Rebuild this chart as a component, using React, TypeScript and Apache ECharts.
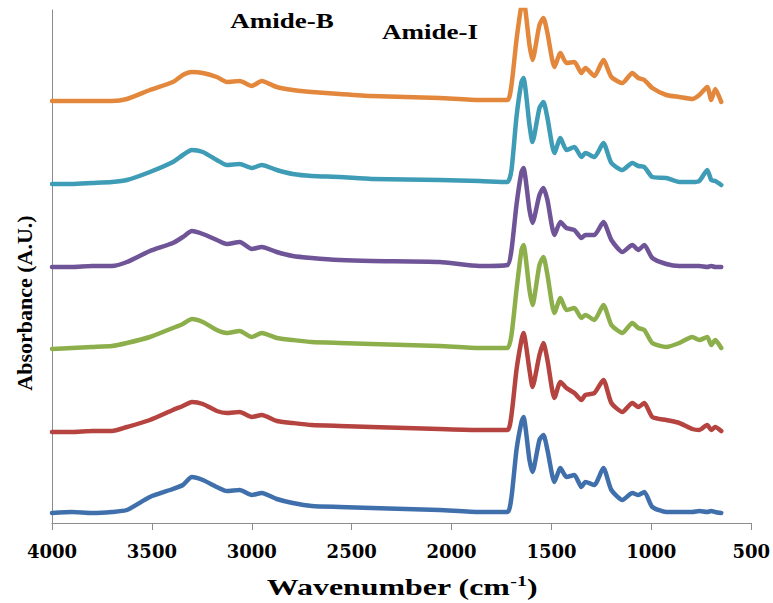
import React, { useEffect, useRef } from "react";
import * as echarts from "echarts";

// Wavenumber grid (cm-1), descending
const wavenumbers = [4000, 3900, 3800, 3700, 3625, 3510, 3395, 3345, 3300, 3245, 3175, 3125, 3060, 3000, 2950, 2875, 2795, 2700, 2560, 2400, 2060, 1860, 1720, 1700, 1675, 1650, 1640, 1610, 1595, 1560, 1540, 1520, 1485, 1455, 1425, 1385, 1350, 1330, 1285, 1240, 1200, 1145, 1095, 1065, 1035, 995, 925, 860, 795, 760, 720, 700, 680, 650];

// Offset absorbance traces (A.U.), bottom to top
const blueTrace = [10, 11, 10, 11, 13, 26, 34, 38, 46, 43, 36, 32, 33, 28, 30, 24, 20, 17, 16, 15, 13, 11, 11, 26, 73, 101, 106, 63, 51, 83, 88, 73, 41, 55, 46, 48, 36, 41, 38, 55, 33, 23, 30, 28, 31, 16, 11, 11, 11, 12, 11, 12, 11, 10];
const redTrace = [91, 91, 92, 92, 96, 103, 113, 117, 121, 119, 112, 110, 111, 106, 108, 102, 100, 98, 97, 96, 94, 93, 93, 108, 153, 183, 190, 153, 136, 168, 180, 163, 125, 141, 135, 130, 123, 128, 130, 143, 120, 111, 120, 116, 120, 106, 103, 100, 94, 93, 98, 93, 96, 92];
const greenTrace = [174, 175, 176, 177, 180, 186, 195, 199, 204, 201, 193, 190, 192, 186, 190, 185, 183, 181, 180, 179, 177, 175, 175, 188, 233, 273, 278, 233, 218, 258, 266, 248, 210, 225, 213, 215, 205, 208, 203, 218, 198, 190, 200, 195, 193, 180, 176, 180, 186, 183, 186, 178, 183, 175];
const purpleTrace = [256, 256, 257, 257, 261, 272, 280, 286, 292, 289, 283, 279, 281, 274, 276, 271, 267, 265, 263, 262, 261, 257, 258, 273, 318, 351, 355, 313, 300, 328, 335, 323, 288, 301, 295, 293, 285, 288, 288, 301, 283, 271, 278, 273, 278, 265, 259, 257, 257, 257, 256, 257, 256, 256];
const tealTrace = [339, 339, 340, 341, 343, 351, 361, 368, 373, 371, 363, 358, 359, 355, 358, 353, 349, 347, 346, 344, 343, 342, 341, 353, 406, 441, 445, 398, 381, 415, 421, 405, 370, 385, 373, 376, 366, 370, 366, 380, 360, 353, 360, 357, 356, 346, 345, 341, 341, 342, 353, 343, 342, 338];
const orangeTrace = [422, 422, 422, 422, 424, 433, 441, 448, 451, 450, 446, 441, 442, 437, 442, 436, 433, 431, 429, 427, 425, 423, 423, 438, 483, 518, 523, 478, 463, 498, 505, 490, 456, 470, 460, 461, 450, 455, 447, 463, 446, 440, 450, 445, 443, 435, 428, 426, 424, 428, 436, 423, 434, 421];

const traces = [blueTrace, redTrace, greenTrace, purpleTrace, tealTrace, orangeTrace];
const traceColors = ["#4070AC", "#B5433F", "#8DAF4B", "#6F5497", "#3E9CB6", "#E2873B"];

const xTicks = { min: 500, max: 4000, interval: 500 };
const yRange = { min: 0, max: 513 };

const annotations = [
  { text: "Amide-B", x: 282, y: 21 },
  { text: "Amide-I", x: 430, y: 32 },
];

export default function App() {
  const ref = useRef<HTMLDivElement>(null);
  useEffect(() => {
    document.body.style.margin = "0";
    const chart = echarts.init(ref.current!, null, { renderer: "svg" });
    const serif = '"Liberation Serif", "Times New Roman", serif';
    chart.setOption({
      animation: false,
      backgroundColor: "#fff",
      grid: { left: 52, right: 21, top: 10, bottom: 80 },
      xAxis: {
        type: "value",
        inverse: true,
        min: xTicks.min,
        max: xTicks.max,
        interval: xTicks.interval,
        axisLine: { show: true, lineStyle: { color: "#8c8c8c", width: 1 } },
        axisTick: { show: true, inside: false, length: 7, lineStyle: { color: "#8c8c8c" } },
        splitLine: { show: false },
        axisLabel: {
          margin: 19,
          color: "#000",
          fontFamily: '"DejaVu Serif", serif',
          fontWeight: "bold",
          fontSize: 18,
          formatter: (v: number) => String(v),
        },
      },
      yAxis: {
        type: "value",
        min: yRange.min,
        max: yRange.max,
        axisLine: { show: true, lineStyle: { color: "#8c8c8c", width: 1 } },
        axisTick: { show: false },
        axisLabel: { show: false },
        splitLine: { show: false },
      },
      series: traces.map((t, i) => ({
        type: "line",
        data: wavenumbers.map((w, j) => [w, t[j]]),
        showSymbol: false,
        smooth: 0.2,
        clip: true,
        lineStyle: { color: traceColors[i], width: 4.5, cap: "round", join: "round" },
        itemStyle: { color: traceColors[i] },
      })),
      graphic: [
        ...annotations.map((a) => ({
          type: "text",
          x: a.x,
          y: a.y,
          scaleX: 1.35,
          style: {
            text: a.text,
            fontFamily: serif,
            fontWeight: "bold",
            fontSize: 20,
            fill: "#000",
            align: "center",
            verticalAlign: "middle",
          },
        })),
        {
          type: "text",
          x: 24,
          y: 303,
          rotation: Math.PI / 2,
          style: {
            text: "Absorbance (A.U.)",
            fontFamily: serif,
            fontWeight: "bold",
            fontSize: 22,
            fill: "#000",
            align: "center",
            verticalAlign: "middle",
          },
        },
        {
          type: "text",
          x: 402,
          y: 587,
          scaleX: 1.33,
          style: {
            text: "{a|Wavenumber (cm}{s|-1}{a|)}",
            align: "center",
            verticalAlign: "middle",
            rich: {
              a: { fontFamily: serif, fontWeight: "bold", fontSize: 24, lineHeight: 28, fill: "#000" },
              s: { fontFamily: serif, fontWeight: "bold", fontSize: 15, lineHeight: 14, verticalAlign: "top", fill: "#000" },
            },
          },
        },
      ],
    });
    return () => chart.dispose();
  }, []);
  return <div ref={ref} style={{ width: 773, height: 603 }} />;
}
